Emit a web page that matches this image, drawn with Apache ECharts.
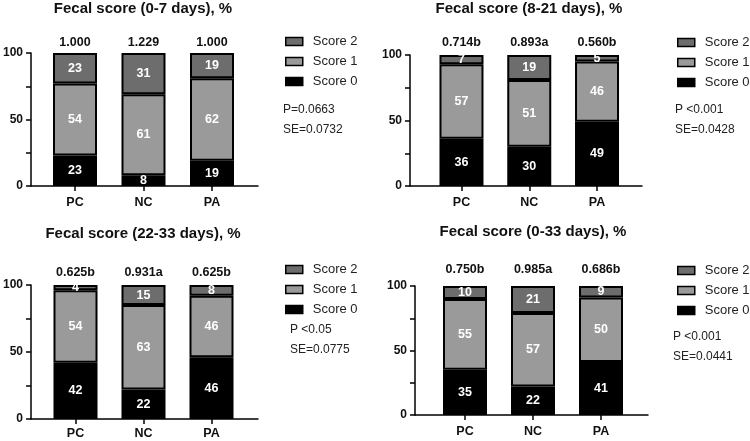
<!DOCTYPE html>
<html><head><meta charset="utf-8">
<script src="https://cdn.jsdelivr.net/npm/echarts@6/dist/echarts.min.js"></script>
<style>html,body{margin:0;padding:0;background:#fff}#c{width:750px;height:441px}</style>
</head><body><div id="c"></div>
<script>
// ---- data ----
const categories = ['PC', 'NC', 'PA'];
const legendOrder = ['Score 2', 'Score 1', 'Score 0'];
const titles = ['Fecal score (0-7 days), %', 'Fecal score (8-21 days), %', 'Fecal score (22-33 days), %', 'Fecal score (0-33 days), %'];

const score0_0to7 = [23, 8, 19];
const score1_0to7 = [54, 61, 62];
const score2_0to7 = [23, 31, 19];
const means_0to7 = ['1.000', '1.229', '1.000'];
const stats_0to7 = ['P=0.0663', 'SE=0.0732'];

const score0_8to21 = [36, 30, 49];
const score1_8to21 = [57, 51, 46];
const score2_8to21 = [7, 19, 5];
const means_8to21 = ['0.714b', '0.893a', '0.560b'];
const stats_8to21 = ['P <0.001', 'SE=0.0428'];

const score0_22to33 = [42, 22, 46];
const score1_22to33 = [54, 63, 46];
const score2_22to33 = [4, 15, 8];
const means_22to33 = ['0.625b', '0.931a', '0.625b'];
const stats_22to33 = ['P <0.05', 'SE=0.0775'];

const score0_0to33 = [35, 22, 41];
const score1_0to33 = [55, 57, 50];
const score2_0to33 = [10, 21, 9];
const means_0to33 = ['0.750b', '0.985a', '0.686b'];
const stats_0to33 = ['P <0.001', 'SE=0.0441'];

const yTicks = [0, 50, 100];

const panels = [
  {title: titles[0], s0: score0_0to7, s1: score1_0to7, s2: score2_0to7, means: means_0to7, stats: stats_0to7},
  {title: titles[1], s0: score0_8to21, s1: score1_8to21, s2: score2_8to21, means: means_8to21, stats: stats_8to21},
  {title: titles[2], s0: score0_22to33, s1: score1_22to33, s2: score2_22to33, means: means_22to33, stats: stats_22to33},
  {title: titles[3], s0: score0_0to33, s1: score1_0to33, s2: score2_0to33, means: means_0to33, stats: stats_0to33}
];

// ---- layout ----
const layout = [
  {axL: 30, axR: 258, top: 53, h: 133, barL: 40.75, barW: 205.5, tX: 143, tY: 10, meanM: 4, catM: 10, lgL: 285, lgT: 35, stX: 283, stY: 110},
  {axL: 410, axR: 642, top: 55, h: 131, barL: 427.6, barW: 203.3, tX: 529, tY: 10, meanM: 6, catM: 10, lgL: 677, lgT: 36, stX: 675, stY: 110},
  {axL: 30, axR: 258, top: 285, h: 134, barL: 41.5, barW: 204, tX: 143, tY: 235, meanM: 6, catM: 8, lgL: 285, lgT: 263, stX: 290, stY: 330},
  {axL: 415, axR: 648, top: 286, h: 129, barL: 431, barW: 204, tX: 533, tY: 233, meanM: 10, catM: 10, lgL: 677, lgT: 264, stX: 673, stY: 337}
];

const FONT = 'Liberation Sans, Arial, sans-serif';
const colors = {'Score 0': '#000000', 'Score 1': '#9a9a9a', 'Score 2': '#6d6d6d'};

const option = {
  animation: false,
  backgroundColor: '#ffffff',
  title: [], grid: [], xAxis: [], yAxis: [], legend: [], series: [], graphic: []
};

panels.forEach((p, i) => {
  const L = layout[i];
  const gAxis = option.grid.length;
  option.grid.push({left: L.axL, top: L.top, width: L.axR - L.axL, height: L.h});
  const gBar = option.grid.length;
  option.grid.push({left: L.barL, top: L.top, width: L.barW, height: L.h});

  option.title.push({
    text: p.title, left: L.tX, top: L.tY - 9, textAlign: 'center', padding: 0,
    textStyle: {fontFamily: FONT, fontSize: 15, fontWeight: 'bold', color: '#111'}
  });

  // axis frame grid
  option.xAxis.push({
    gridIndex: gAxis, type: 'value', min: 0, max: 1,
    axisLine: {show: true, lineStyle: {color: '#000', width: 1.5}},
    axisTick: {show: false}, axisLabel: {show: false}, splitLine: {show: false}
  });
  option.yAxis.push({
    gridIndex: gAxis, type: 'value', min: 0, max: 100, interval: 25,
    axisLine: {show: true, lineStyle: {color: '#000', width: 1.5}},
    axisTick: {show: true, length: 5, lineStyle: {color: '#000', width: 1.5}},
    axisLabel: {
      margin: 8, fontFamily: FONT, fontSize: 12, fontWeight: 'bold', color: '#111',
      formatter: v => (yTicks.indexOf(v) >= 0 ? String(v) : '')
    },
    splitLine: {show: false}
  });

  // bar grid
  const xCat = option.xAxis.length;
  option.xAxis.push({
    gridIndex: gBar, type: 'category', data: categories, position: 'bottom',
    axisLine: {show: false},
    axisTick: {show: true, alignWithLabel: true, length: 5, lineStyle: {color: '#000', width: 1.5}},
    axisLabel: {margin: L.catM, fontFamily: FONT, fontSize: 12.5, fontWeight: 'bold', color: '#111'}
  });
  option.xAxis.push({
    gridIndex: gBar, type: 'category', data: p.means, position: 'top',
    axisLine: {show: false}, axisTick: {show: false},
    axisLabel: {margin: L.meanM, fontFamily: FONT, fontSize: 12.5, fontWeight: 'bold', color: '#111'}
  });
  const yBar = option.yAxis.length;
  option.yAxis.push({
    gridIndex: gBar, type: 'value', min: 0, max: 100, show: false
  });

  const stackId = 'st' + i;
  [['Score 0', p.s0], ['Score 1', p.s1], ['Score 2', p.s2]].forEach(([name, vals]) => {
    option.series.push({
      name: name, type: 'bar', stack: stackId, xAxisIndex: xCat, yAxisIndex: yBar,
      data: vals, barWidth: 44,
      itemStyle: {color: colors[name], borderColor: '#000', borderWidth: 2},
      label: {
        show: true, position: 'inside', color: '#fff', fontFamily: FONT,
        fontSize: 12.5, fontWeight: 'bold'
      }
    });
  });

  option.legend.push({
    data: legendOrder, orient: 'vertical', left: L.lgL, top: L.lgT,
    icon: 'rect', itemWidth: 17, itemHeight: 8, itemGap: 7, padding: 0,
    itemStyle: {borderColor: '#000', borderWidth: 1.5},
    textStyle: {fontFamily: FONT, fontSize: 13, color: '#222', padding: [0, 0, 0, 5]}
  });

  p.stats.forEach((s, k) => {
    option.graphic.push({
      type: 'text', x: L.stX, y: L.stY + k * 20,
      style: {text: s, fill: '#222', font: '12px ' + FONT, verticalAlign: 'middle'}
    });
  });
});

const chart = echarts.init(document.getElementById('c'), null, {renderer: 'canvas'});
chart.setOption(option);
</script>
</body></html>
